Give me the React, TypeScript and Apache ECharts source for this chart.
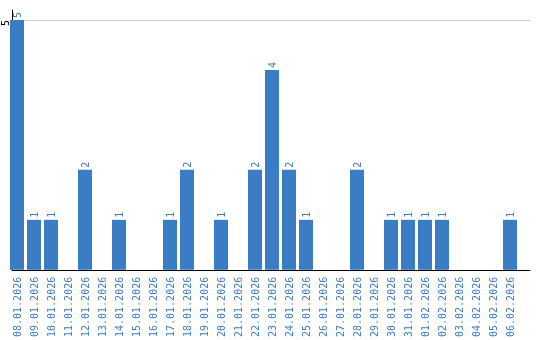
import React, { useEffect, useRef } from "react";
import * as echarts from "echarts";

const categories = [
  "08.01.2026", "09.01.2026", "10.01.2026", "11.01.2026", "12.01.2026",
  "13.01.2026", "14.01.2026", "15.01.2026", "16.01.2026", "17.01.2026",
  "18.01.2026", "19.01.2026", "20.01.2026", "21.01.2026", "22.01.2026",
  "23.01.2026", "24.01.2026", "25.01.2026", "26.01.2026", "27.01.2026",
  "28.01.2026", "29.01.2026", "30.01.2026", "31.01.2026", "01.02.2026",
  "02.02.2026", "03.02.2026", "04.02.2026", "05.02.2026", "06.02.2026",
];

const values = [
  5, 1, 1, 0, 2,
  0, 1, 0, 0, 1,
  2, 0, 1, 0, 2,
  4, 2, 1, 0, 0,
  2, 0, 1, 1, 1,
  1, 0, 0, 0, 1,
];

const yMax = 5.2;
const yTickInterval = 5;

const BLUE = "#3b7dc4";
const FONT = "DejaVu Sans Mono";

export default function App() {
  const ref = useRef<HTMLDivElement>(null);
  useEffect(() => {
    if (!ref.current) return;
    const chart = echarts.init(ref.current, null, { renderer: "svg" });
    chart.setOption({
      animation: false,
      grid: [
        { left: 8.5, width: 510, top: 10, bottom: 70, containLabel: false },
        { left: 10, right: 10, top: 10, bottom: 70, containLabel: false },
      ],
      xAxis: [
        {
          gridIndex: 0,
          type: "category",
          data: categories,
          axisLine: { show: false },
          axisTick: { show: false },
          axisLabel: {
            interval: 0,
            rotate: 90,
            margin: 7,
            color: BLUE,
            fontFamily: FONT,
            fontSize: 10,
          },
        },
        {
          gridIndex: 1,
          type: "value",
          min: 0,
          max: 1,
          axisLine: { show: true, lineStyle: { color: "#000", width: 1 } },
          axisTick: { show: false },
          axisLabel: { show: false },
          splitLine: { show: false },
        },
      ],
      yAxis: [
        {
          gridIndex: 0,
          type: "value",
          min: 0,
          max: yMax,
          show: false,
          splitLine: { show: false },
        },
        {
          gridIndex: 1,
          type: "value",
          min: 0,
          max: yMax,
          interval: yTickInterval,
          axisLine: { show: true, lineStyle: { color: "#000", width: 1 } },
          axisTick: { show: false },
          axisLabel: {
            rotate: 90,
            margin: 2,
            align: "right",
            verticalAlign: "bottom",
            padding: [0, 0, 0, 0],
            color: "#000",
            fontFamily: FONT,
            fontSize: 10,
            showMinLabel: false,
            showMaxLabel: false,
            formatter: (v: number) => (v === yTickInterval ? String(v) : ""),
          },
          splitLine: {
            show: true,
            showMinLine: false,
            showMaxLine: false,
            lineStyle: { color: "#cccccc", width: 1 },
          },
        },
      ],
      series: [
        {
          type: "bar",
          xAxisIndex: 0,
          yAxisIndex: 0,
          data: values,
          barWidth: 14,
          itemStyle: { color: BLUE },
          label: {
            show: true,
            position: "top",
            rotate: 90,
            align: "left",
            verticalAlign: "middle",
            distance: 2,
            color: BLUE,
            fontFamily: FONT,
            fontSize: 10,
            formatter: (p: any) => (p.value ? String(p.value) : ""),
          },
        },
      ],
    });
    return () => chart.dispose();
  }, []);
  return <div ref={ref} style={{ width: 540, height: 340, position: "fixed", left: 0, top: 0 }} />;
}
